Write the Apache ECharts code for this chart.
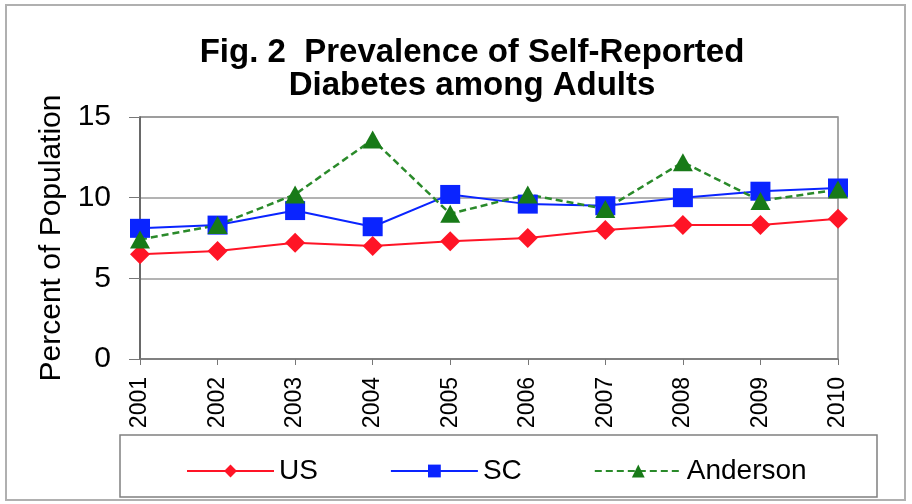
<!DOCTYPE html>
<html>
<head>
<meta charset="utf-8">
<script src="https://cdn.jsdelivr.net/npm/echarts@6/dist/echarts.min.js"></script>
<style>
    html, body { margin: 0; padding: 0; background: #fff; }
    #charts { width: 912px; height: 504px; }
</style>
</head>
<body>
<div id="charts"></div>
<script>
var years = ['2001', '2002', '2003', '2004', '2005', '2006', '2007', '2008', '2009', '2010'];
var usValues = [6.5, 6.7, 7.2, 7.0, 7.3, 7.5, 8.0, 8.3, 8.3, 8.7];
var scValues = [8.1, 8.3, 9.2, 8.2, 10.2, 9.6, 9.5, 10.0, 10.4, 10.6];
var andersonValues = [7.4, 8.3, 10.2, 13.6, 9.0, 10.2, 9.3, 12.2, 9.8, 10.5];
var yTicks = [0, 5, 10, 15];

var font = 'Liberation Sans, Arial, sans-serif';

var chart = echarts.init(document.getElementById('charts'));
chart.setOption({
    backgroundColor: '#fff',
    animation: false,
    title: {
        text: 'Fig. 2  Prevalence of Self-Reported\nDiabetes among Adults',
        left: 467,
        top: 31,
        textAlign: 'center',
        textStyle: {
            fontFamily: font,
            fontSize: 33,
            fontWeight: 'bold',
            lineHeight: 33,
            color: '#000'
        }
    },
    graphic: [
        {
            type: 'rect',
            shape: { x: 6, y: 5, width: 899, height: 495 },
            style: { fill: 'none', stroke: '#b0b0b0', lineWidth: 2 },
            silent: true
        },
        {
            type: 'rect',
            shape: { x: 120, y: 435, width: 757, height: 62 },
            style: { fill: '#fff', stroke: '#808080', lineWidth: 1.5 },
            silent: true
        }
    ],
    legend: {
        left: 181,
        top: 452,
        itemWidth: 87,
        itemHeight: 16,
        itemGap: 72,
        textStyle: { fontFamily: font, fontSize: 28, color: '#000' },
        data: ['US', 'SC', 'Anderson']
    },
    grid: {
        left: 140,
        right: 74,
        top: 117,
        bottom: 145,
        show: true,
        borderColor: '#8a8a8a',
        borderWidth: 1.5
    },
    xAxis: {
        type: 'category',
        data: years,
        boundaryGap: false,
        axisLine: { lineStyle: { color: '#777', width: 1.5 } },
        axisTick: { alignWithLabel: true, length: 6, lineStyle: { color: '#777' } },
        axisLabel: {
            rotate: 90,
            margin: 18,
            fontFamily: font,
            fontSize: 23,
            color: '#000'
        }
    },
    yAxis: {
        type: 'value',
        min: yTicks[0],
        max: yTicks[yTicks.length - 1],
        interval: yTicks[1] - yTicks[0],
        name: 'Percent of Population',
        nameLocation: 'middle',
        nameRotate: 90,
        nameGap: 72,
        nameTextStyle: { fontFamily: font, fontSize: 30, color: '#000' },
        axisLine: { show: true, lineStyle: { color: '#555', width: 1.5 } },
        axisTick: { show: true, length: 11, lineStyle: { color: '#777' } },
        axisLabel: {
            margin: 29,
            fontFamily: font,
            fontSize: 30,
            color: '#000'
        },
        splitLine: { lineStyle: { color: '#9a9a9a', width: 1.5 } }
    },
    series: [
        {
            name: 'US',
            type: 'line',
            data: usValues,
            symbol: 'diamond',
            symbolSize: 20,
            itemStyle: { color: '#ff1426' },
            lineStyle: { color: '#ff1426', width: 2 }
        },
        {
            name: 'SC',
            type: 'line',
            data: scValues,
            symbol: 'rect',
            symbolSize: [20, 19],
            itemStyle: { color: '#0a24ff' },
            lineStyle: { color: '#0a24ff', width: 2 }
        },
        {
            name: 'Anderson',
            type: 'line',
            data: andersonValues,
            symbol: 'triangle',
            symbolSize: [20, 18],
            itemStyle: { color: '#187a18' },
            lineStyle: { color: '#2a8a2a', width: 2.5, type: [7, 4] }
        }
    ]
});
</script>
</body>
</html>
